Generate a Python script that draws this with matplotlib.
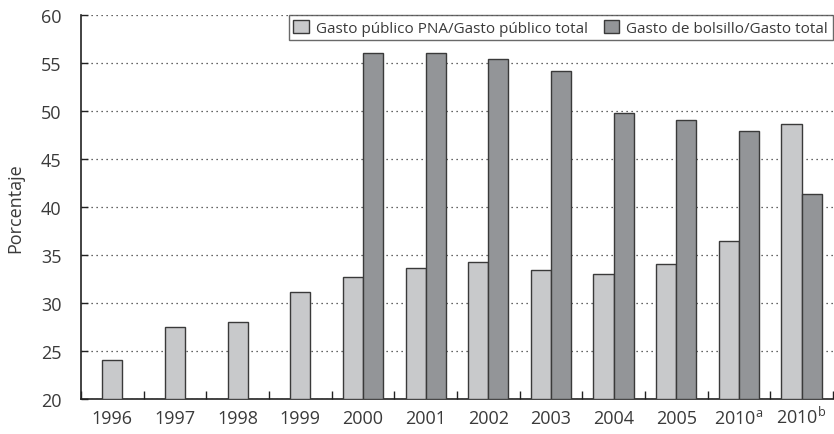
import numpy as np
import matplotlib as mpl
import matplotlib.pyplot as plt
from matplotlib.patches import Patch

mpl.rcParams['font.family'] = ['Open Sans', 'DejaVu Sans']
mpl.rcParams['mathtext.fontset'] = 'custom'
mpl.rcParams['mathtext.rm'] = 'Open Sans'

years = ['1996', '1997', '1998', '1999', '2000', '2001', '2002', '2003',
         '2004', '2005', '2010$^{\\mathrm{a}}$', '2010$^{\\mathrm{b}}$']
pna = [24.1, 27.5, 28.0, 31.1, 32.7, 33.6, 34.3, 33.4, 33.0, 34.1, 36.5, 48.7]
bolsillo = [None, None, None, None, 56.0, 56.1, 55.4, 54.2, 49.8, 49.1, 47.9, 41.4]

light = '#c8c9cb'
dark = '#939598'
edge = '#3a3a3a'
txt = '#3a3a3a'

fig = plt.figure(figsize=(8.34, 4.35), dpi=100)
ax = fig.add_axes([0.0971, 0.0805, 0.9015, 0.8825])

x = np.arange(len(years))
w = 0.32
for i in x:
    if bolsillo[i] is None:
        ax.bar(i, pna[i] - 20, w, bottom=20, color=light, edgecolor=edge, linewidth=1, zorder=3)
    else:
        ax.bar(i - w / 2, pna[i] - 20, w, bottom=20, color=light, edgecolor=edge, linewidth=1, zorder=3)
        ax.bar(i + w / 2, bolsillo[i] - 20, w, bottom=20, color=dark, edgecolor=edge, linewidth=1, zorder=3)

ax.set_ylim(20, 60)
ax.set_xlim(-0.5, len(years) - 0.5)
ax.set_yticks(range(20, 61, 5))
ax.yaxis.grid(True, linestyle=(0, (1, 3)), color='#333333', linewidth=0.9)
ax.set_axisbelow(True)

ax.set_xticks(x)
ax.set_xticklabels(years)
ax.set_xticks(np.arange(-0.5, len(years), 1.0), minor=True)
ax.tick_params(axis='x', which='major', length=0, pad=17, labelsize=13)
ax.tick_params(axis='x', which='minor', direction='in', length=6, width=1, color='#222222')
ax.tick_params(axis='y', direction='in', length=5, width=1, labelsize=13, pad=14, color='#222222')
for lab in ax.get_xticklabels():
    lab.set_verticalalignment('baseline')

for s in ['top', 'right']:
    ax.spines[s].set_visible(False)
for s in ['left', 'bottom']:
    ax.spines[s].set_color('#222222')
    ax.spines[s].set_linewidth(1.2)

ax.set_ylabel('Porcentaje', fontsize=13, labelpad=12, color=txt)
for lab in ax.get_xticklabels() + ax.get_yticklabels():
    lab.set_color(txt)

handles = [Patch(facecolor=light, edgecolor=edge, linewidth=1),
           Patch(facecolor=dark, edgecolor=edge, linewidth=1)]
leg = ax.legend(handles, ['Gasto público PNA/Gasto público total', 'Gasto de bolsillo/Gasto total'],
                ncol=2, loc='upper right', bbox_to_anchor=(1.0, 1.0), fontsize=11,
                frameon=True, fancybox=False, borderpad=0.3, handlelength=1.0, handleheight=1.0,
                handletextpad=0.5, columnspacing=1.0, borderaxespad=0)
leg.get_frame().set_edgecolor('#444444')
leg.get_frame().set_linewidth(1)
for t in leg.get_texts():
    t.set_color(txt)

fig.savefig('out.png', dpi=100)
